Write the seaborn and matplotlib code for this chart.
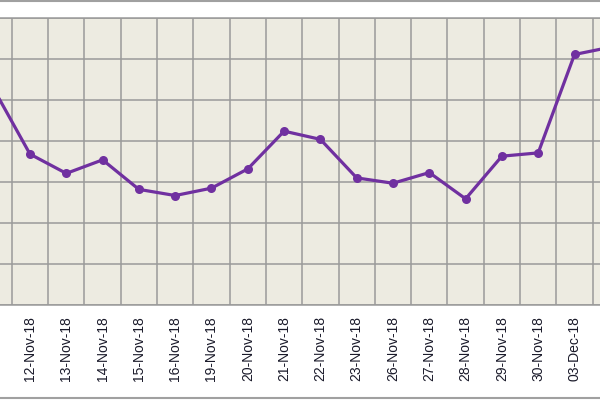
import seaborn as sns
import pandas as pd
import matplotlib.pyplot as plt
from matplotlib.ticker import FixedLocator

# dates on the x axis (first and last are mostly cut off)
dates = ['09-Nov-18', '12-Nov-18', '13-Nov-18', '14-Nov-18', '15-Nov-18', '16-Nov-18',
         '19-Nov-18', '20-Nov-18', '21-Nov-18', '22-Nov-18', '23-Nov-18', '26-Nov-18',
         '27-Nov-18', '28-Nov-18', '29-Nov-18', '30-Nov-18', '03-Dec-18', '04-Dec-18']
# values (y scale unknown, one grid step = 1)
values = [5.27, 3.68, 3.21, 3.54, 2.82, 2.67, 2.85, 3.32, 4.24, 4.04, 3.10, 2.97,
          3.23, 2.59, 3.63, 3.71, 6.11, 6.29]

df = pd.DataFrame({'date': dates, 'value': values})
df['pos'] = range(len(dates))

sns.set_style('white')
plt.rcParams['font.family'] = ['Liberation Sans', 'DejaVu Sans']

fig = plt.figure(figsize=(6, 4), dpi=100)
ax = fig.add_axes([-0.04075, 0.2375, 1.089, 0.7175])
ax.set_facecolor('#edebe1')

sns.lineplot(data=df, x='pos', y='value', ax=ax, color='#7030a0', linewidth=2.3,
             marker='o', markersize=6.5, markeredgewidth=0, sort=False)

ax.set_xlim(-0.5, len(dates) - 0.5)
ax.set_ylim(0, 7)
ax.set_xticks(range(len(dates)))
ax.set_xticklabels(dates, rotation=90, fontsize=10, color='#1a1a2a')
ax.xaxis.set_minor_locator(FixedLocator([i - 0.5 for i in range(len(dates) + 1)]))
ax.set_yticks(range(8))
ax.set_yticklabels([])
ax.tick_params(axis='x', which='both', length=0, pad=8)
ax.tick_params(axis='y', length=0)
ax.grid(False)
ax.grid(True, axis='x', which='minor', color='#9a9a9a', linewidth=1.1)
ax.grid(True, axis='y', which='major', color='#9a9a9a', linewidth=1.1)
ax.get_xticklabels()[0].set_color('#80e6f2')
for s in ax.spines.values():
    s.set_color('#9a9a9a')
    s.set_linewidth(1.1)
ax.set_xlabel('')
ax.set_ylabel('')

# chart border lines at top and bottom of the crop
fig.add_artist(plt.Line2D([0, 1], [0.997, 0.997], color='#a0a0a0', linewidth=1.5))
fig.add_artist(plt.Line2D([0, 1], [0.004, 0.004], color='#a0a0a0', linewidth=1.5))

fig.savefig('out.png', dpi=100)
